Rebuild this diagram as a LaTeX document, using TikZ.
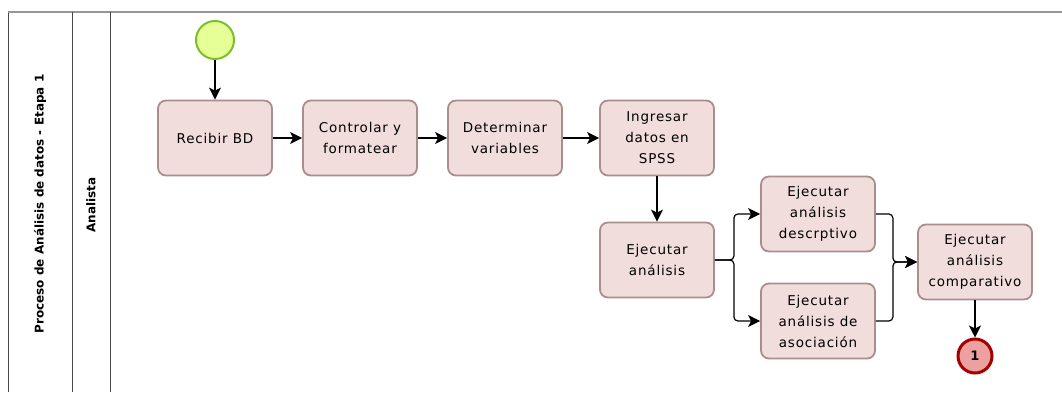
\documentclass[tikz,border=0pt]{standalone}
\usepackage{fontspec}
\setmainfont{DejaVu Sans}
\newfontfamily\taskfont{DejaVu Sans}[LetterSpace=6]
\usetikzlibrary{arrows.meta}
\definecolor{taskfill}{RGB}{242,221,221}
\definecolor{taskdraw}{RGB}{170,142,142}
\definecolor{startfill}{RGB}{230,255,150}
\definecolor{startdraw}{RGB}{125,190,45}
\definecolor{endfill}{RGB}{236,160,160}
\definecolor{enddraw}{RGB}{165,0,0}
\definecolor{poolline}{RGB}{70,70,70}
\definecolor{pooltop}{RGB}{150,150,150}
\begin{document}
\begin{tikzpicture}[x=1pt,y=-1pt,
  task/.style={draw=taskdraw,fill=taskfill,line width=1.8pt,rounded corners=8pt,
    minimum width=114pt,minimum height=75pt,align=center,inner sep=0pt,
    font=\taskfont\fontsize{13.5}{21}\selectfont},
  startev/.style={circle,draw=startdraw,fill=startfill,line width=2pt,minimum size=38pt,inner sep=0pt},
  endev/.style={circle,draw=enddraw,fill=endfill,line width=3pt,minimum size=34pt,inner sep=0pt,font=\bfseries\fontsize{13}{15}\selectfont},
  flow/.style={draw=black,line width=1.2pt,-{Stealth[length=12pt,width=12pt,inset=3pt]}},
  poolstyle/.style={draw=poolline,line width=1pt},
  lanelabel/.style={rotate=90,font=\bfseries\fontsize{12}{14}\selectfont}]
\useasboundingbox (0,0) rectangle (1062,392);
\fill[white] (0,0) rectangle (1062,392);
% pool
\draw[poolstyle] (8,392) -- (8,12);
\draw[draw=pooltop,line width=1.2pt] (8,12) -- (1062,12);
\draw[poolstyle] (72,12) -- (72,392);
\draw[poolstyle] (110,12) -- (110,392);
\node[lanelabel] (pool) at (40,204) {Proceso de Análisis de datos - Etapa 1};
\node[lanelabel] (lane) at (91,205) {Analista};
% nodes
\node[startev] (start) at (215,40) {};
\node[task] (recibir) at (215,138) {Recibir BD};
\node[task] (controlar) at (360,138) {Controlar y\\formatear};
\node[task] (determinar) at (505,138) {Determinar\\variables};
\node[task] (ingresar) at (657,138) {Ingresar\\datos en\\SPSS};
\node[task] (ejecutar) at (657,260) {Ejecutar\\análisis};
\node[task] (desc) at (818,214) {Ejecutar\\análisis\\descrptivo};
\node[task] (asoc) at (818,321) {Ejecutar\\análisis de\\asociación};
\node[task] (comp) at (975,262) {Ejecutar\\análisis\\comparativo};
\node[endev] (end) at (975,356) {1};
% flows
\draw[flow] (start) -- (recibir);
\draw[flow] (recibir) -- (controlar);
\draw[flow] (controlar) -- (determinar);
\draw[flow] (determinar) -- (ingresar);
\draw[flow] (ingresar) -- (ejecutar);
\draw[flow,rounded corners=4pt] (ejecutar.east) -- ++(19,0) |- (desc.west);
\draw[flow,rounded corners=4pt] (ejecutar.east) -- ++(19,0) |- (asoc.west);
\draw[flow,rounded corners=4pt] (desc.east) -- ++(17,0) |- (comp.west);
\draw[flow,rounded corners=4pt] (asoc.east) -- ++(17,0) |- (comp.west);
\draw[flow] (comp) -- (end);
\end{tikzpicture}
\end{document}
